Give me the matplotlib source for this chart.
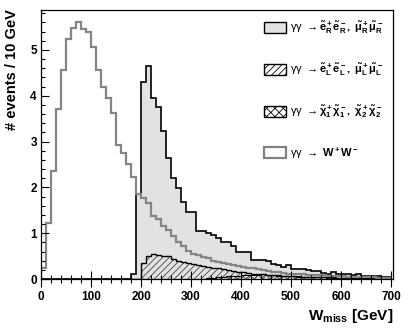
import numpy as np
import matplotlib
matplotlib.use('Agg')
from matplotlib import pyplot as plt
from matplotlib.patches import Patch
from matplotlib.ticker import MultipleLocator

plt.rcParams['font.family'] = ['Liberation Sans', 'DejaVu Sans']
plt.rcParams['mathtext.fontset'] = 'custom'
plt.rcParams['mathtext.rm'] = 'Liberation Sans'
plt.rcParams['mathtext.it'] = 'Liberation Sans:italic'
plt.rcParams['mathtext.bf'] = 'Liberation Sans:bold'
plt.rcParams['hatch.linewidth'] = 0.6

# 10 GeV bins, 0 - 700 GeV
edges = np.arange(0, 710, 10)

ww = [0.25, 1.23, 2.36, 3.70, 4.55, 5.23, 5.47, 5.60, 5.45, 5.38,
      5.07, 4.55, 4.18, 3.94, 3.62, 2.93, 2.76, 2.51, 2.22, 1.85,
      1.76, 1.65, 1.38, 1.30, 1.16, 1.08, 0.94, 0.80, 0.72, 0.61,
      0.54, 0.52, 0.47, 0.45, 0.40, 0.38, 0.34, 0.32, 0.30, 0.28,
      0.27, 0.25, 0.23, 0.21, 0.19, 0.18, 0.16, 0.15, 0.13, 0.12,
      0.11, 0.10, 0.10, 0.09, 0.09, 0.08, 0.08, 0.07, 0.07, 0.06,
      0.06, 0.05, 0.05, 0.05, 0.04, 0.04, 0.04, 0.03, 0.03, 0.03]

sel_R = [0.0] * 18 + [
    0.12, 1.85,
    4.30, 4.65, 3.95, 3.76, 3.23, 2.65, 2.21, 1.99, 1.67, 1.47,
    1.47, 1.05, 1.05, 1.00, 0.95, 0.89, 0.81, 0.80, 0.71, 0.60,
    0.60, 0.58, 0.42, 0.41, 0.41, 0.39, 0.33, 0.31, 0.27, 0.30,
    0.22, 0.21, 0.22, 0.20, 0.17, 0.17, 0.14, 0.12, 0.15, 0.12,
    0.10, 0.10, 0.09, 0.10, 0.07, 0.07, 0.06, 0.06, 0.05, 0.05]

sel_L = [0.0] * 20 + [
    0.36, 0.50, 0.55, 0.53, 0.51, 0.50, 0.44, 0.40, 0.37, 0.34,
    0.32, 0.31, 0.29, 0.27, 0.25, 0.23, 0.21, 0.20, 0.18, 0.16,
    0.15, 0.13, 0.12, 0.11, 0.10, 0.09, 0.08, 0.08, 0.07, 0.06,
    0.06, 0.05, 0.05, 0.05, 0.04, 0.04, 0.04, 0.03, 0.03, 0.03,
    0.03, 0.02, 0.02, 0.02, 0.02, 0.02, 0.02, 0.01, 0.01, 0.01]

chargino = [0.0] * 33 + [
    0.02, 0.03, 0.04, 0.05, 0.06, 0.06, 0.07,
    0.08, 0.08, 0.08, 0.09, 0.10, 0.09, 0.08, 0.07, 0.07, 0.07,
    0.06, 0.06, 0.05, 0.05, 0.05, 0.04, 0.04, 0.04, 0.04, 0.03,
    0.03, 0.03, 0.03, 0.02, 0.02, 0.02, 0.02, 0.02, 0.02, 0.01]

labels = [r'γγ $\rightarrow\mathbf{\tilde{e}^+_R\tilde{e}^-_R,\ \tilde{\mu}^+_R\tilde{\mu}^-_R}$',
          r'γγ $\rightarrow\mathbf{\tilde{e}^+_L\tilde{e}^-_L,\ \tilde{\mu}^+_L\tilde{\mu}^-_L}$',
          r'γγ $\rightarrow\mathbf{\tilde{\chi}^+_1\tilde{\chi}^-_1,\ \tilde{\chi}^+_2\tilde{\chi}^-_2}$',
          r'γγ $\rightarrow\ \mathbf{W^+W^-}$']

dpi = 100.0
fig = plt.figure(figsize=(415/dpi, 328/dpi), dpi=dpi)
ax = fig.add_axes([41/415., 1-279/328., 352/415., 269.5/328.])

# R-selectrons: light grey fill
ax.stairs(sel_R, edges, fill=True, facecolor='#e2e2e2', edgecolor='none')
ax.stairs(sel_R, edges, color='black', lw=1.2)
# L-selectrons: hatched
ax.stairs(sel_L, edges, fill=True, facecolor='none', edgecolor='#444444',
          hatch='/////', lw=0)
ax.stairs(sel_L, edges, color='black', lw=1.0)
# charginos: cross hatch
ax.stairs(chargino, edges, fill=True, facecolor='none', edgecolor='#444444',
          hatch='xxxx', lw=0)
ax.stairs(chargino, edges, color='black', lw=0.8)
# WW background
ax.stairs(ww, edges, color='#858585', lw=1.6)

ax.set_xlim(0, 704)
ax.set_ylim(0, 5.88)
ax.xaxis.set_major_locator(MultipleLocator(100))
ax.xaxis.set_minor_locator(MultipleLocator(20))
ax.yaxis.set_major_locator(MultipleLocator(1))
ax.yaxis.set_minor_locator(MultipleLocator(0.2))
ax.tick_params(which='both', direction='in', labelsize=8.5, width=0.8)
ax.tick_params(which='major', length=6)
ax.tick_params(which='minor', length=3)
ax.tick_params(axis='x', which='both', direction='inout', pad=3)
ax.tick_params(axis='x', which='major', length=11)
ax.tick_params(axis='x', which='minor', length=6)
ax.tick_params(axis='y', pad=3)
for lab in ax.get_xticklabels() + ax.get_yticklabels():
    lab.set_fontweight('bold')
for s in ax.spines.values():
    s.set_linewidth(0.9)

ax.set_xlabel(r'$\mathbf{W_{miss}}$ [GeV]', loc='right', fontsize=11,
              fontweight='bold', labelpad=3)
ax.set_ylabel('# events / 10 GeV', loc='top', fontsize=10.5,
              fontweight='bold', labelpad=8)

handles = [Patch(facecolor='#e2e2e2', edgecolor='black', lw=1.0),
           Patch(facecolor='white', edgecolor='black', hatch='/////', lw=1.0),
           Patch(facecolor='white', edgecolor='black', hatch='xxxx', lw=1.0),
           Patch(facecolor='white', edgecolor='#808080', lw=1.6)]
leg = ax.legend(handles, labels, loc='upper right', frameon=False,
                fontsize=8, handlelength=2.0, handleheight=1.15,
                labelspacing=2.3, handletextpad=0.35,
                bbox_to_anchor=(1.0, 1.0))

fig.savefig('out.png', dpi=dpi)
